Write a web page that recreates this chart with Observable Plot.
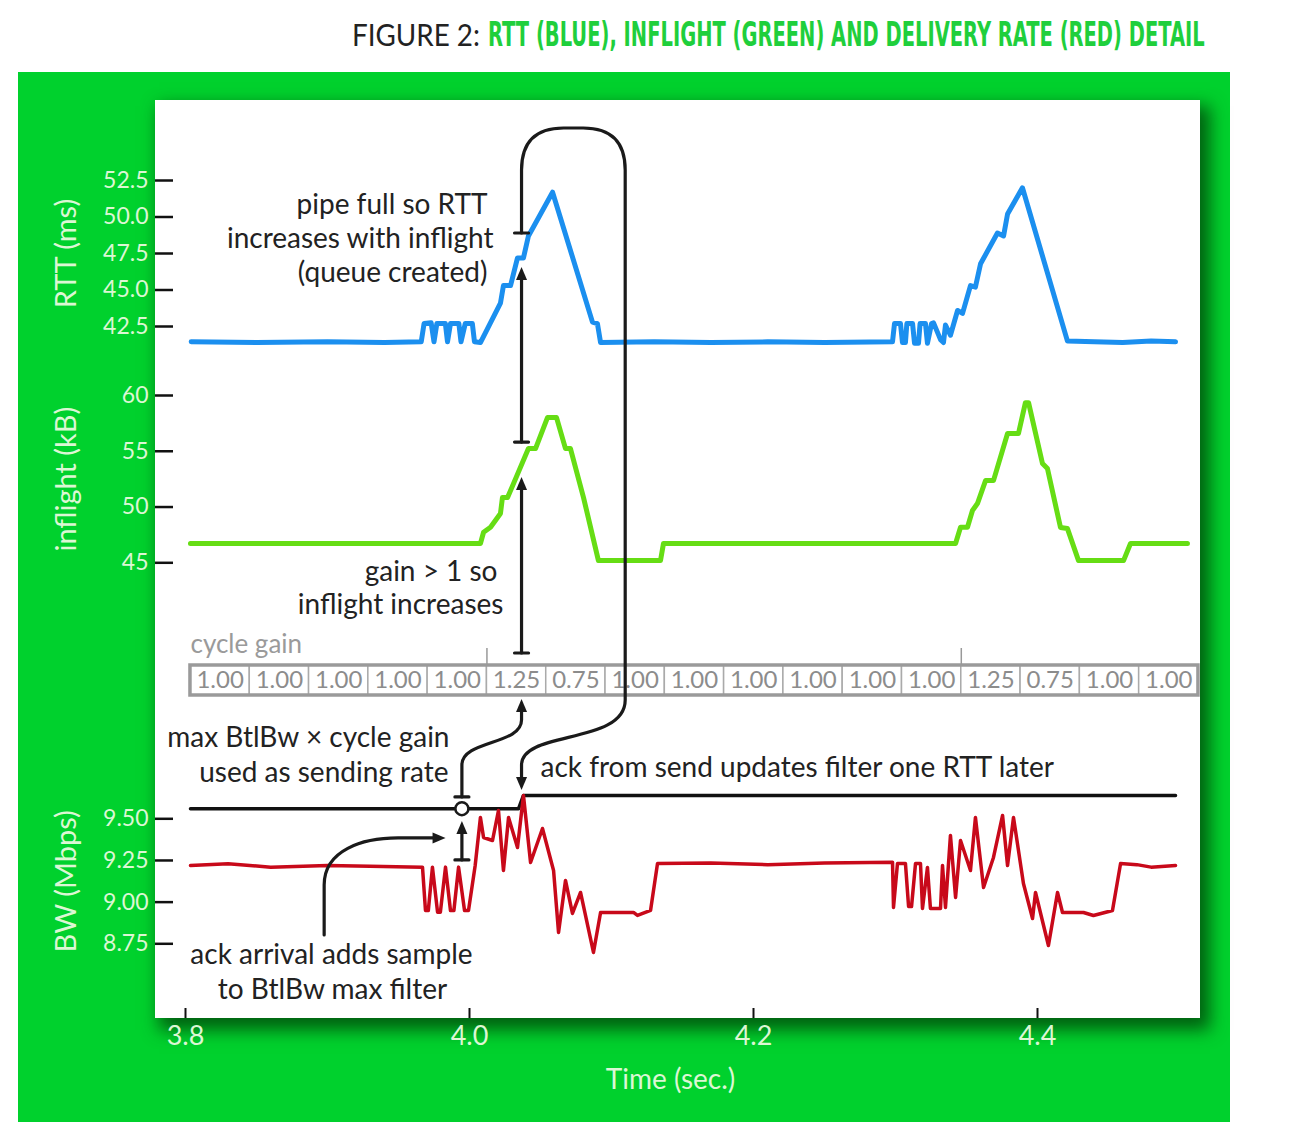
<!DOCTYPE html>
<html><head><meta charset="utf-8">
<script src="https://cdn.jsdelivr.net/npm/d3@7"></script>
<script src="https://cdn.jsdelivr.net/npm/@observablehq/plot@0.6"></script>
<style>
html,body{margin:0;padding:0;background:#fff;}
#root{position:relative;width:1308px;height:1144px;overflow:hidden;font-family:Lato,"Open Sans",sans-serif;}
#panel{position:absolute;left:18px;top:72px;width:1212px;height:1050px;background:#00d12d;}
#box{position:absolute;left:155px;top:100px;width:1045px;height:918px;background:#fff;box-shadow:7px 9px 16px 3px rgba(0,70,10,.8);}
#root svg{position:absolute;left:0;}
</style></head><body>
<div id="root">
  <div id="panel"></div><div id="box"></div>
  <svg id="title" width="1308" height="70" style="top:0">
    <text id="t1" font-family="Lato" font-size="31" fill="#222">FIGURE 2:</text>
    <text id="t2" font-family="'DejaVu Sans Condensed','DejaVu Sans'" font-weight="bold" font-size="33" fill="#1fcf3c">RTT (BLUE), INFLIGHT (GREEN) AND DELIVERY RATE (RED) DETAIL</text>
  </svg>
</div>
<script>
// ---------------- data ----------------
const rttTime = [3.804,3.85,3.90,3.94,3.966,3.968,3.973,3.975,3.977,3.983,3.9845,3.9866,3.9925,3.994,3.997,4.002,4.0035,4.0077,
  4.0218,4.0239,4.0289,4.0338,4.038,4.0415,4.0585,4.0866,4.0901,4.0923,4.13,4.17,4.21,4.25,4.2979,
  4.2993,4.3035,4.3049,4.307,4.308,4.312,4.3134,4.3162,4.3173,4.3211,4.3225,4.3254,4.3268,4.3317,4.3338,4.3352,4.3387,
  4.3437,4.3472,4.3528,4.3563,4.3599,4.3718,4.3761,4.3789,4.3894,4.4211,4.44,4.46,4.48,4.4972];
const rttMs = [41.45,41.4,41.45,41.4,41.45,42.7,42.75,41.45,42.7,42.7,41.45,42.7,42.7,41.45,42.7,42.7,41.45,41.4,
  44.1,45.3,45.3,47.2,47.2,48.7,51.7,42.8,42.7,41.4,41.45,41.4,41.45,41.4,41.45,
  42.7,42.7,41.4,41.4,42.7,42.7,41.35,41.35,42.7,42.7,41.35,42.7,42.75,41.6,41.4,42.6,41.9,
  43.6,43.4,45.3,45.2,46.8,48.9,48.7,50.2,52.0,41.5,41.45,41.4,41.5,41.45];

const inflightTime = [3.8035,4.0077,4.0099,4.0148,4.0218,4.0232,4.0268,4.0415,4.0465,4.0549,4.0613,4.0676,4.0711,4.0803,4.0908,4.1345,4.1366,
  4.3423,4.3458,4.3507,4.3542,4.3577,4.3634,4.369,4.3789,4.3866,4.3915,4.3937,4.4035,4.407,4.4162,4.4211,4.4289,4.4606,4.4655,4.5056];
const inflightKB = [46.73,46.73,47.74,48.19,49.42,50.85,50.85,55.24,55.24,58.02,58.02,55.24,55.24,50.85,45.2,45.2,46.73,
  46.73,48.19,48.19,49.69,50.31,52.37,52.37,56.59,56.59,59.36,59.36,53.9,53.45,48.16,48.07,45.2,45.2,46.73,46.73];

const bwTime = [3.8035,3.83,3.86,3.90,3.93,3.9669,3.969,3.971,3.9739,3.9775,3.9795,3.9831,3.9866,3.989,3.9923,3.9965,3.9993,4.004,
  4.0077,4.0099,4.0162,4.0204,4.0239,4.0275,4.0338,4.038,4.043,4.0514,4.0592,4.0627,4.0676,4.0725,4.0782,4.0873,4.0923,4.1155,4.1183,4.1275,4.1324,
  4.17,4.21,4.25,4.2979,4.2986,4.3014,4.307,4.3092,4.3113,4.3141,4.3176,4.319,4.3225,4.3246,4.3317,4.3331,4.3352,4.3387,4.3423,4.3458,4.3528,
  4.3563,4.362,4.369,4.3754,4.3789,4.3831,4.3901,4.3965,4.3986,4.4077,4.4141,4.4176,4.4324,4.4394,4.4528,4.4585,4.47,4.48,4.4972];
const bwMbps = [9.22,9.23,9.21,9.22,9.215,9.21,8.95,8.95,9.21,8.94,8.94,9.21,8.95,8.95,9.21,8.95,8.95,9.22,
  9.508,9.388,9.37,9.55,9.19,9.508,9.328,9.64,9.238,9.442,9.19,8.818,9.13,8.932,9.058,8.698,8.938,8.938,8.92,8.95,9.232,
  9.235,9.225,9.235,9.24,8.968,9.232,9.232,8.974,8.974,9.232,9.232,8.962,9.208,8.962,8.962,9.22,8.968,9.40,9.028,9.37,9.19,
  9.508,9.088,9.268,9.52,9.22,9.508,9.112,8.902,9.058,8.74,9.058,8.938,8.938,8.92,8.95,9.232,9.225,9.21,9.22];

const filterTime = [3.8035,4.0345,4.038,4.4972];
const filterMbps = [9.56,9.56,9.64,9.64];

const gainLabels = ["1.00","1.00","1.00","1.00","1.00","1.25","0.75","1.00","1.00","1.00","1.00","1.00","1.00","1.25","0.75","1.00","1.00"];
const cycleStart = 3.8035, cycleLen = 0.041756;

const timeTicks = [3.8,4.0,4.2,4.4];
const rttTicks = [42.5,45,47.5,50,52.5];
const inflightTicks = [45,50,55,60];
const bwTicks = [8.75,9.0,9.25,9.5];

const rttNotes = [
  {t:4.0127, v:50.79, s:"pipe full so RTT"},
  {t:4.0169, v:48.46, s:"increases with inflight"},
  {t:4.0127, v:46.13, s:"(queue created)"}];
const inflightNotes = [
  {t:4.0197, v:44.13, s:"gain > 1 so"},
  {t:4.0239, v:41.17, s:"inflight increases"}];
const bwNotesEnd = [
  {t:3.9859, v:9.982, s:"max BtlBw × cycle gain"},
  {t:3.9852, v:9.772, s:"used as sending rate"}];
const bwNotesStart = [
  {t:4.050, v:9.802, s:"ack from send updates filter one RTT later"}];
const bwNotesMid = [
  {t:3.9028, v:8.68, s:"ack arrival adds sample"},
  {t:3.9035, v:8.47, s:"to BtlBw max filter"}];

// ---------------- title ----------------
function fitText(id, x, y, w) {
  const el = document.getElementById(id);
  const len = el.getComputedTextLength();
  el.setAttribute("transform", `translate(${x},${y}) scale(${w / len},1)`);
}
fitText("t1", 352, 46, 128);
fitText("t2", 488, 46, 717);

// ---------------- layout ----------------
const root = document.getElementById("root");
const W = 1308, ML = 185, MR = 129;
const pale = "#dcf7d4", ink = "#1a1a1a";
const zip = (a, b) => a.map((t, i) => ({t, v: b[i]}));
const noteStyle = {x: "t", y: "v", text: "s", fontSize: 28, fill: "#222"};

function panel({top, height, mt, mb, domain, ticks, fmt, label, marks}) {
  const p = Plot.plot({
    width: W, height, marginLeft: ML, marginRight: MR, marginTop: mt, marginBottom: mb,
    x: {domain: [3.8, 4.5], axis: null},
    y: {domain},
    style: {background: "transparent", overflow: "visible", fontFamily: "Lato"},
    marks: [
      Plot.axisY(ticks, {tickFormat: d3.format(fmt), tickSize: 18, tickPadding: 7, dx: -12,
        stroke: "#111", strokeWidth: 2.5, fill: pale, fontSize: 23, label: null}),
      Plot.text([label], {text: d => d, frameAnchor: "left", textAnchor: "middle", lineAnchor: "middle",
        rotate: -90, dx: -119, fontSize: 29, fill: pale}),
      ...marks
    ]
  });
  p.style.top = top + "px";
  root.appendChild(p);
  return p;
}

const TOP_R = 100, TOP_I = 370, TOP_G = 620, TOP_B = 700, TOP_X = 1000;

const pR = panel({top: TOP_R, height: 260, mt: 80, mb: 34, domain: [42.5, 52.5], ticks: rttTicks, fmt: ".1f", label: "RTT (ms)",
  marks: [
    Plot.line(zip(rttTime, rttMs), {x: "t", y: "v", stroke: "#1b8fef", strokeWidth: 5, strokeLinejoin: "round"}),
    Plot.text(rttNotes, {...noteStyle, textAnchor: "end"})
  ]});

const pI = panel({top: TOP_I, height: 210, mt: 25, mb: 17.7, domain: [45, 60], ticks: inflightTicks, fmt: "d", label: "inflight (kB)",
  marks: [
    Plot.line(zip(inflightTime, inflightKB), {x: "t", y: "v", stroke: "#66dd14", strokeWidth: 5, strokeLinejoin: "round"}),
    Plot.text(inflightNotes, {...noteStyle, textAnchor: "end"})
  ]});

const pB = panel({top: TOP_B, height: 320, mt: 118.3, mb: 76.7, domain: [8.75, 9.5], ticks: bwTicks, fmt: ".2f", label: "BW (Mbps)",
  marks: [
    Plot.line(zip(filterTime, filterMbps), {x: "t", y: "v", stroke: "#111", strokeWidth: 3.5}),
    Plot.line(zip(bwTime, bwMbps), {x: "t", y: "v", stroke: "#c8091a", strokeWidth: 3.5, strokeLinejoin: "round"}),
    Plot.text(bwNotesEnd, {...noteStyle, textAnchor: "end"}),
    Plot.text(bwNotesStart, {...noteStyle, textAnchor: "start"}),
    Plot.text(bwNotesMid, {...noteStyle, textAnchor: "middle"})
  ]});

// cycle gain row
const gains = gainLabels.map((g, i) => ({g, t0: cycleStart + i * cycleLen, t1: cycleStart + (i + 1) * cycleLen}));
const phaseStarts = gains.filter(d => d.g === "1.25").map(d => d.t0);
const pG = Plot.plot({
  width: W, height: 100, marginLeft: ML, marginRight: MR, marginTop: 45, marginBottom: 25,
  x: {domain: [3.8, 4.5], axis: null},
  style: {background: "transparent", overflow: "visible", fontFamily: "Lato"},
  marks: [
    Plot.rect(gains, {x1: "t0", x2: "t1", fill: "white", stroke: "#aaa", strokeWidth: 1.5}),
    Plot.rect([0], {x1: () => gains[0].t0, x2: () => gains[gains.length - 1].t1, fill: "none", stroke: "#9a9a9a", strokeWidth: 3.5}),
    Plot.ruleX(phaseStarts, {x: d => d, stroke: "#999", strokeWidth: 1.5, insetTop: -17, insetBottom: 30}),
    Plot.text(gains, {x: d => (d.t0 + d.t1) / 2, text: "g", fontSize: 24, fill: "#8c8c8c"}),
    Plot.text(["cycle gain"], {x: () => cycleStart, text: d => d, frameAnchor: "top", lineAnchor: "middle", dy: -21,
      textAnchor: "start", fontSize: 26, fill: "#9a9a9a"})
  ]
});
pG.style.top = TOP_G + "px";
root.appendChild(pG);

// time axis
const pX = Plot.plot({
  width: W, height: 110, marginLeft: ML, marginRight: MR, marginTop: 8, marginBottom: 92,
  x: {domain: [3.8, 4.5]},
  style: {background: "transparent", overflow: "visible", fontFamily: "Lato"},
  marks: [
    Plot.tickX(timeTicks, {x: d => d, stroke: "#111", strokeWidth: 2}),
    Plot.axisX(timeTicks, {tickSize: 0, tickPadding: 7, tickFormat: d3.format(".1f"), fontSize: 27, fill: pale, label: null}),
    Plot.text(["Time (sec.)"], {text: d => d, frameAnchor: "bottom", lineAnchor: "middle", dy: 62, dx: -12, fontSize: 28, fill: pale})
  ]
});
pX.style.top = TOP_X + "px";
root.appendChild(pX);

// ---------------- annotation overlay (positions via the plots' scales) ----------------
const X = t => pR.scale("x").apply(t);
const YR = v => TOP_R + pR.scale("y").apply(v);
const YI = v => TOP_I + pI.scale("y").apply(v);
const YB = v => TOP_B + pB.scale("y").apply(v);

const tAck = 4.037, tLoop = 4.110, tSample = 3.995, tArrival = 3.898, tArrTip = 3.9835;

const ov = d3.select(root).append("svg").attr("width", W).attr("height", 1144).style("top", "0px").style("pointer-events", "none");
const g = ov.append("g").attr("fill", "none").attr("stroke", ink).attr("stroke-width", 3.2).attr("stroke-linecap", "round");

function cap(x, y) { g.append("line").attr("x1", x - 7).attr("x2", x + 7).attr("y1", y).attr("y2", y); }
function head(x, y, dir) {
  const L = 13, H = 5.5;
  let pts;
  if (dir === "up") pts = [[x, y], [x - H, y + L], [x + H, y + L]];
  else if (dir === "down") pts = [[x, y], [x - H, y - L], [x + H, y - L]];
  else pts = [[x, y], [x - L, y - H], [x - L, y + H]];
  ov.append("path").attr("d", "M" + pts.map(p => p.join(",")).join("L") + "Z").attr("fill", ink);
}

const xA = X(tAck), xR = X(tLoop), xS = X(tSample), xL = X(tArrival);

// gain -> inflight
{ const y0 = YI(36.87), y1 = YI(52.64);
  cap(xA, y0); g.append("path").attr("d", `M${xA},${y0}V${y1 + 10}`); head(xA, y1, "up"); }
// inflight -> RTT
{ const y0 = YI(55.78), y1 = YR(46.54);
  cap(xA, y0); g.append("path").attr("d", `M${xA},${y0}V${y1 + 10}`); head(xA, y1, "up"); }
// RTT -> loop -> ack
{ const y0 = YR(48.87), top = YR(56.06), r = 42, bb = YB(10.21), be = YB(9.82), tip = YB(9.67);
  cap(xA, y0);
  g.append("path").attr("d",
    `M${xA},${y0}V${top + r}Q${xA},${top} ${xA + r},${top}H${xR - r}Q${xR},${top} ${xR},${top + r}` +
    `V${bb}C${xR},${bb + 45} ${xA},${bb + 30} ${xA},${be}V${tip - 10}`);
  head(xA, tip, "down"); }
// filter -> sending rate (gain cell)
{ const y0 = YB(9.628), y1 = YB(9.82), tip = YB(10.216);
  cap(xS, y0);
  g.append("path").attr("d", `M${xS},${y0}V${y1}C${xS},${YB(9.97)} ${xA},${YB(9.94)} ${xA},${YB(10.09)}V${tip + 10}`);
  head(xA, tip, "up"); }
// sample -> filter
{ const y0 = YB(9.25), tip = YB(9.484);
  cap(xS, y0); g.append("path").attr("d", `M${xS},${y0}V${tip + 10}`); head(xS, tip, "up"); }
// ack arrival curve
{ const yT = YB(9.382), xt = X(tArrTip);
  g.append("path").attr("d", `M${xL},${YB(8.80)}V${YB(9.10)}C${xL},${YB(9.31)} ${X(3.925)},${yT} ${X(3.95)},${yT}H${xt - 10}`);
  head(xt, yT, "right"); }
// sample circle
ov.append("circle").attr("cx", xS).attr("cy", YB(9.558)).attr("r", 6.5).attr("fill", "white").attr("stroke", ink).attr("stroke-width", 2.5);
</script>
</body></html>
